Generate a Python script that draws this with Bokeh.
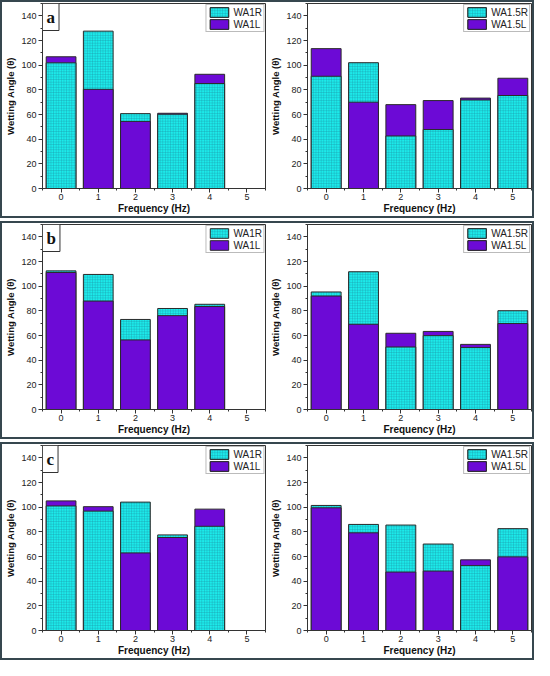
from bokeh.plotting import figure
from bokeh.models import ColumnDataSource, Legend, LegendItem, Label, FixedTicker
from bokeh.layouts import row, column
from bokeh.embed import file_html
from bokeh.resources import INLINE

# ---- data ----
freq = [0, 1, 2, 3, 4, 5]
y_ticks = [0, 20, 40, 60, 80, 100, 120, 140]

a_WA1R = [101.9, 127.6, 60.7, 60.2, 85.1, None]
a_WA1L = [106.8, 80.4, 54.4, 61.0, 92.6, None]
a_WA15R = [91.0, 102.0, 42.6, 47.8, 71.8, 75.4]
a_WA15L = [113.4, 70.0, 68.0, 71.3, 73.3, 89.4]

b_WA1R = [112.4, 109.5, 73.0, 81.9, 85.3, None]
b_WA1L = [111.1, 87.9, 56.4, 76.1, 83.5, None]
b_WA15R = [95.3, 111.7, 50.7, 59.9, 50.2, 80.1]
b_WA15L = [92.0, 69.1, 61.8, 63.3, 52.8, 69.7]

c_WA1R = [101.0, 96.8, 104.1, 77.5, 84.5, None]
c_WA1L = [105.1, 100.4, 62.9, 75.4, 98.4, None]
c_WA15R = [101.4, 86.0, 85.5, 70.1, 52.6, 82.6]
c_WA15L = [99.5, 79.2, 47.4, 48.2, 57.3, 59.7]

# ---- style ----
CYAN = "#1ceaea"
HATCH = "#1a9aaa"
PURPLE = "#6c0ad6"
EDGE = "#2a2a2a"
AX = "#333333"
FONT = "Liberation Sans"
BORDER = "#36474f"


def make_panel(R, L, names, letter, left):
    p = figure(width=265, height=214, x_range=(-0.5, 5.5), y_range=(0, 150),
               output_backend="svg", toolbar_location=None,
               min_border_left=33 if left else 32,
               min_border_right=2 if left else 1,
               min_border_top=1, min_border_bottom=18)
    p.grid.visible = False
    p.outline_line_color = AX
    p.outline_line_width = 1
    p.background_fill_color = "white"
    p.border_fill_color = "white"

    srcs = {k: dict(x=[], top=[]) for k in ("Rb", "Lb", "Rf", "Lf")}
    for x, r, l in zip(freq, R, L):
        if r is None or l is None:
            continue
        if r >= l:
            srcs["Rb"]["x"].append(x); srcs["Rb"]["top"].append(r)
            srcs["Lf"]["x"].append(x); srcs["Lf"]["top"].append(l)
        else:
            srcs["Lb"]["x"].append(x); srcs["Lb"]["top"].append(l)
            srcs["Rf"]["x"].append(x); srcs["Rf"]["top"].append(r)

    cyan_kw = dict(fill_color=CYAN, hatch_pattern="+", hatch_color=HATCH,
                   hatch_scale=2.6, hatch_weight=0.7, hatch_alpha=0.6,
                   line_color=EDGE, line_width=1)
    purp_kw = dict(fill_color=PURPLE, line_color=EDGE, line_width=1)

    rb = p.vbar(x="x", top="top", width=0.8, source=ColumnDataSource(srcs["Rb"]), **cyan_kw)
    lb = p.vbar(x="x", top="top", width=0.8, source=ColumnDataSource(srcs["Lb"]), **purp_kw)
    rf = p.vbar(x="x", top="top", width=0.8, source=ColumnDataSource(srcs["Rf"]), **cyan_kw)
    lf = p.vbar(x="x", top="top", width=0.8, source=ColumnDataSource(srcs["Lf"]), **purp_kw)

    legend = Legend(items=[LegendItem(label=names[0], renderers=[rb, rf]),
                           LegendItem(label=names[1], renderers=[lb, lf])],
                    location="top_right", margin=1, padding=1, spacing=0,
                    glyph_width=23, glyph_height=12, label_height=12,
                    label_standoff=3, label_text_font=FONT,
                    label_text_font_size="10px", label_text_color="#222",
                    border_line_color="#777", border_line_width=1,
                    background_fill_color="white", background_fill_alpha=1)
    p.add_layout(legend)

    p.xaxis.ticker = FixedTicker(ticks=freq, minor_ticks=[-0.5, 0.5, 1.5, 2.5, 3.5, 4.5, 5.5])
    p.yaxis.ticker = FixedTicker(ticks=y_ticks, minor_ticks=[10, 30, 50, 70, 90, 110, 130, 150])
    for ax in (p.xaxis[0], p.yaxis[0]):
        ax.axis_line_color = AX
        ax.major_tick_line_color = AX
        ax.minor_tick_line_color = AX
        ax.major_tick_out = 4
        ax.major_tick_in = 0
        ax.minor_tick_out = 2
        ax.minor_tick_in = 0
        ax.major_label_text_font = FONT
        ax.major_label_text_font_size = "9px"
        ax.major_label_text_color = "#222"
        ax.axis_label_text_font = FONT
        ax.axis_label_text_font_style = "bold"
        ax.axis_label_text_color = "#111"
    p.xaxis.axis_label = "Frequency (Hz)"
    p.xaxis.axis_label_text_font_size = "10px"
    p.xaxis.major_label_standoff = 1
    p.xaxis.axis_label_standoff = 0
    p.yaxis.axis_label = "Wetting Angle (θ)"
    p.yaxis.axis_label_text_font_size = "9.5px"
    p.yaxis.major_label_standoff = 2
    p.yaxis.axis_label_standoff = 2

    if letter:
        p.add_layout(Label(x=-0.5, y=150, text=letter, text_align="left",
                           text_baseline="top", text_font="Liberation Serif",
                           text_font_style="bold", text_font_size="17px",
                           text_color="#111", border_line_color=AX,
                           border_line_width=1, background_fill_color="white",
                           padding=4))
    return p


rows = []
for letter, (R1, L1, R2, L2) in (("a", (a_WA1R, a_WA1L, a_WA15R, a_WA15L)),
                                 ("b", (b_WA1R, b_WA1L, b_WA15R, b_WA15L)),
                                 ("c", (c_WA1R, c_WA1L, c_WA15R, c_WA15L))):
    p1 = make_panel(R1, L1, ("WA1R", "WA1L"), letter, True)
    p2 = make_panel(R2, L2, ("WA1.5R", "WA1.5L"), None, False)
    rows.append(row(p1, p2, styles={"border": f"2px solid {BORDER}"}))

layout = column(*rows, spacing=3)

open("out.html", "w").write(file_html(layout, INLINE))
